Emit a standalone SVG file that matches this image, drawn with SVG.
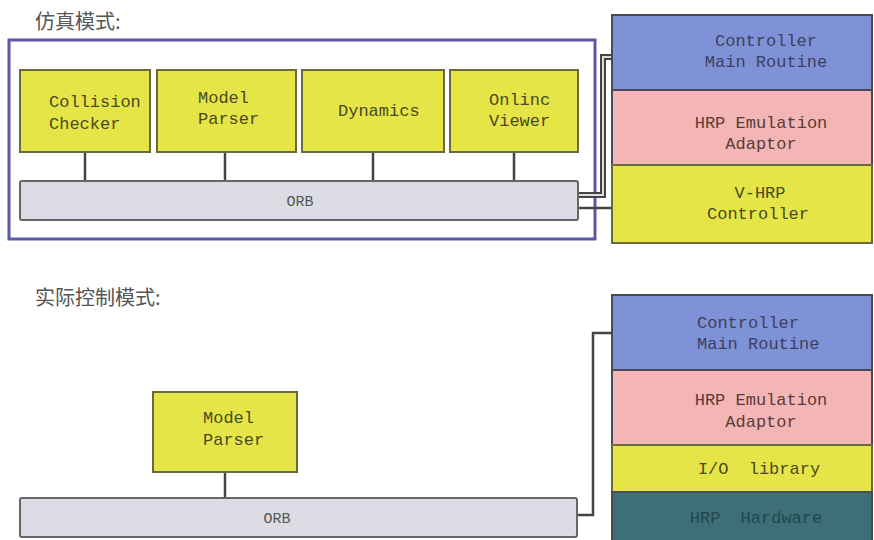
<svg xmlns="http://www.w3.org/2000/svg" width="874" height="540" viewBox="0 0 874 540">
<style>
.t{font-family:"Liberation Mono","DejaVu Sans Mono",monospace;font-size:17px;fill:#4a4a22}
.tb{font-family:"Liberation Mono","DejaVu Sans Mono",monospace;font-size:17px;fill:#3c3f5e}
.tp{font-family:"Liberation Mono","DejaVu Sans Mono",monospace;font-size:17px;fill:#5a3a3a}
.th{font-family:"Liberation Mono","DejaVu Sans Mono",monospace;font-size:17px;fill:#23474d}
.orbt{font-family:"Liberation Mono","DejaVu Sans Mono",monospace;font-size:15px;fill:#555}
.title{font-family:"Noto Sans CJK SC","Noto Sans CJK JP",sans-serif;font-size:20px;fill:#555}
.y{fill:#e5e548;stroke:#6a6a40;stroke-width:2}
.b{fill:#7f92d8;stroke:#4a4a55;stroke-width:2}
.p{fill:#f3b6b4;stroke:#4a4a55;stroke-width:2}
.h{fill:#3e6f78;stroke:#4a4a55;stroke-width:2}
.orb{fill:#dcdde4;stroke:#666;stroke-width:2}
.c{fill:none;stroke:#444;stroke-width:2.5}
</style>
<text class="title" x="35" y="29">仿真模式:</text>
<text class="title" x="35" y="305">实际控制模式:</text>
<rect x="9" y="40" width="586" height="199" fill="none" stroke="#5b58a8" stroke-width="3"/>
<g id="connectors">
<path class="c" d="M85 152V182M225 152V182M373 152V182M514 152V182"/>
<path d="M578 195H603V57H613" fill="none" stroke="#444" stroke-width="6"/>
<path d="M578 195H603V57H613" fill="none" stroke="#ddd" stroke-width="2"/>
<path class="c" d="M578 208H613"/>
<path class="c" d="M225 472V499"/>
<path class="c" d="M577 515H593V333H613"/>
</g>
<g id="collision"><rect class="y" x="20" y="70" width="130" height="82"/><text class="t" x="49" y="107">Collision</text><text class="t" x="49" y="129">Checker</text></g>
<g id="modelparser1"><rect class="y" x="157" y="70" width="139" height="82"/><text class="t" x="198" y="103">Model</text><text class="t" x="198" y="124">Parser</text></g>
<g id="dynamics"><rect class="y" x="302" y="70" width="142" height="82"/><text class="t" x="338" y="116">Dynamics</text></g>
<g id="viewer"><rect class="y" x="450" y="70" width="128" height="82"/><text class="t" x="489" y="105">Onlinc</text><text class="t" x="489" y="126">Viewer</text></g>
<g id="orb1"><rect class="orb" x="20" y="181" width="558" height="39" rx="2"/><text class="orbt" x="300" y="206" text-anchor="middle">ORB</text></g>
<g id="ctrl1"><rect class="b" x="612" y="15" width="260" height="75"/><text class="tb" x="766" y="46" text-anchor="middle">Controller</text><text class="tb" x="766" y="67" text-anchor="middle">Main Routine</text></g>
<g id="emu1"><rect class="p" x="612" y="90" width="260" height="75"/><text class="tp" x="761" y="128" text-anchor="middle">HRP Emulation</text><text class="tp" x="761" y="149" text-anchor="middle">Adaptor</text></g>
<g id="vhrp"><rect class="y" x="612" y="165" width="260" height="78"/><text class="t" x="760" y="198" text-anchor="middle">V-HRP</text><text class="t" x="758" y="219" text-anchor="middle">Controller</text></g>
<g id="modelparser2"><rect class="y" x="153" y="392" width="144" height="80"/><text class="t" x="203" y="423">Model</text><text class="t" x="203" y="445">Parser</text></g>
<g id="orb2"><rect class="orb" x="20" y="498" width="557" height="39" rx="2"/><text class="orbt" x="277" y="523" text-anchor="middle">ORB</text></g>
<g id="ctrl2"><rect class="b" x="612" y="295" width="260" height="75"/><text class="tb" x="697" y="328">Controller</text><text class="tb" x="697" y="349">Main Routine</text></g>
<g id="emu2"><rect class="p" x="612" y="370" width="260" height="75"/><text class="tp" x="761" y="405" text-anchor="middle">HRP Emulation</text><text class="tp" x="761" y="427" text-anchor="middle">Adaptor</text></g>
<g id="io"><rect class="y" x="612" y="445" width="260" height="47"/><text class="t" x="759" y="474" text-anchor="middle" word-spacing="10">I/O library</text></g>
<g id="hw"><rect class="h" x="612" y="492" width="260" height="50"/><text class="th" x="756" y="523" text-anchor="middle" word-spacing="10">HRP Hardware</text></g>
</svg>
